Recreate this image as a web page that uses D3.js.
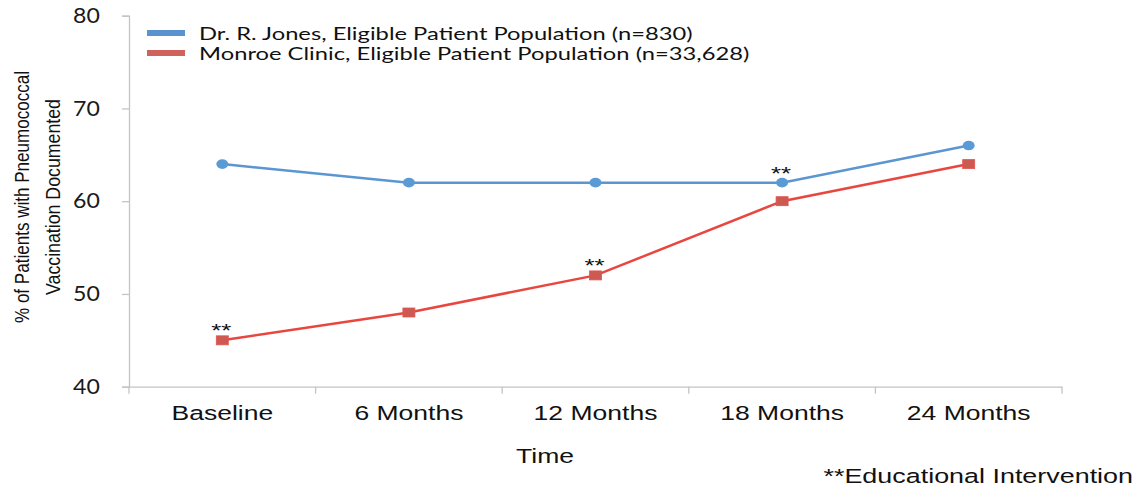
<!DOCTYPE html>
<html>
<head>
<meta charset="utf-8">
<script src="https://cdn.jsdelivr.net/npm/d3@7"></script>
<style>
  html, body { margin: 0; padding: 0; background: #fff; }
  svg { display: block; }
</style>
</head>
<body>
<svg id="chart" width="1138" height="486"></svg>
<script>
// Time points and vaccination documentation rates (%)
const categories = ["Baseline", "6 Months", "12 Months", "18 Months", "24 Months"];
const jonesValues = [64, 62, 62, 62, 66];
const monroeValues = [45, 48, 52, 60, 64];
const yTicks = [40, 50, 60, 70, 80];
const seriesNames = [
  "Dr. R. Jones, Eligible Patient Population (n=830)",
  "Monroe Clinic, Eligible Patient Population (n=33,628)"
];
// Time points that received an educational intervention (marked with **)
const interventionMarks = [
  { category: "Baseline", series: "monroe" },
  { category: "12 Months", series: "monroe" },
  { category: "18 Months", series: "jones" }
];

const svg = d3.select("#chart");
const plot = { left: 129, right: 1062, top: 15.7, bottom: 386.7 };
const wide = 1.36; // horizontal stretch applied to the text glyphs

const x = d3.scaleBand().domain(categories).range([plot.left, plot.right]).padding(0);
const y = d3.scaleLinear().domain([40, 80]).range([plot.bottom, plot.top]);
const cx = c => x(c) + x.bandwidth() / 2;

const axisColor = "#c4c4c4";
const sans = "'Liberation Sans', Arial, sans-serif";

function label(parent, px, py, txt, size, anchor, family, stretch) {
  return parent.append("text")
    .attr("transform", `translate(${px},${py}) scale(${stretch || wide},1)`)
    .attr("text-anchor", anchor)
    .style("font-family", family || sans)
    .style("font-size", size + "px")
    .attr("fill", "#111")
    .text(txt);
}

// Y axis
const yAxis = svg.append("g")
  .attr("transform", `translate(${plot.left},0)`)
  .call(d3.axisLeft(y).tickValues(yTicks).tickSize(7).tickPadding(22).tickFormat(d3.format("d")));
yAxis.select(".domain").attr("stroke", axisColor).attr("stroke-width", 1.3);
yAxis.selectAll(".tick line").attr("stroke", axisColor).attr("stroke-width", 1.3);
yAxis.selectAll(".tick text")
  .attr("fill", "#1a1a1a")
  .style("font-family", "Lato, 'Open Sans', sans-serif")
  .style("font-size", "21px")
  .attr("transform", "translate(-28,0) scale(1.1,1) translate(28,0)");

// X axis: ticks fall on category boundaries
const xAxis = svg.append("g")
  .attr("transform", `translate(0,${plot.bottom})`)
  .call(d3.axisBottom(x).tickSize(0).tickPadding(19));
xAxis.select(".domain").attr("stroke", axisColor).attr("stroke-width", 1.3);
xAxis.selectAll(".tick text")
  .attr("fill", "#111")
  .attr("transform", `scale(${wide},1)`)
  .style("font-family", sans)
  .style("font-size", "19.5px");
const boundaries = categories.map(c => x(c)).concat([plot.right]);
xAxis.selectAll(".bound")
  .data(boundaries)
  .join("line")
  .attr("class", "bound")
  .attr("x1", d => d).attr("x2", d => d)
  .attr("y1", 0).attr("y2", 7)
  .attr("stroke", axisColor).attr("stroke-width", 1.3);

// Axis titles
label(svg, 545, 463, "Time", 19.5, "middle");

const yTitle = svg.append("g").attr("transform", "translate(0,197) rotate(-90)");
yTitle.append("text")
  .attr("x", 0).attr("y", 29)
  .attr("text-anchor", "middle")
  .attr("textLength", 252).attr("lengthAdjust", "spacingAndGlyphs")
  .style("font-family", "'Liberation Sans Narrow', 'Liberation Sans', sans-serif")
  .style("font-size", "20px")
  .attr("fill", "#111")
  .text("% of Patients with Pneumococcal");
yTitle.append("text")
  .attr("x", 0).attr("y", 60)
  .attr("text-anchor", "middle")
  .attr("textLength", 196).attr("lengthAdjust", "spacingAndGlyphs")
  .style("font-family", "'Liberation Sans Narrow', 'Liberation Sans', sans-serif")
  .style("font-size", "20px")
  .attr("fill", "#111")
  .text("Vaccination Documented");

// Series
const series = [
  { key: "jones", values: jonesValues, line: "#5b96d2", marker: "#5b9bd5", shape: "circle" },
  { key: "monroe", values: monroeValues, line: "#e8463f", marker: "#cc5a52", shape: "square" }
];

const line = d3.line().x(d => cx(d.c)).y(d => y(d.v));

series.forEach(s => {
  const pts = categories.map((c, i) => ({ c, v: s.values[i] }));
  svg.append("path")
    .datum(pts)
    .attr("fill", "none")
    .attr("stroke", s.line)
    .attr("stroke-width", 2.5)
    .attr("d", line);
  if (s.shape === "circle") {
    svg.selectAll(null).data(pts).join("ellipse")
      .attr("cx", d => cx(d.c)).attr("cy", d => y(d.v))
      .attr("rx", 6).attr("ry", 4.8)
      .attr("fill", s.marker);
  } else {
    svg.selectAll(null).data(pts).join("rect")
      .attr("x", d => cx(d.c) - 6).attr("y", d => y(d.v) - 4.5)
      .attr("width", 12).attr("height", 9)
      .attr("fill", s.marker)
      .attr("stroke", "#e25550").attr("stroke-width", 0.8);
  }
});

// Intervention markers
interventionMarks.forEach(d => {
  const vals = d.series === "jones" ? jonesValues : monroeValues;
  const v = vals[categories.indexOf(d.category)];
  label(svg, cx(d.category) - 1, y(v) - 3, "**", 19, "middle");
});

// Legend
series.forEach((s, i) => {
  const ly = 33 + i * 20;
  svg.append("rect")
    .attr("x", 147).attr("y", ly - 3).attr("width", 38).attr("height", 6)
    .attr("fill", s.key === "jones" ? "#5b93cf" : "#cf625a");
  label(svg, 199, ly + 6.5, seriesNames[i], 18, "start", "Lato, 'Open Sans', sans-serif", 1.32);
});

// Footnote
label(svg, 1133, 483, "**Educational Intervention", 19.5, "end", sans, 1.38);
</script>
</body>
</html>
